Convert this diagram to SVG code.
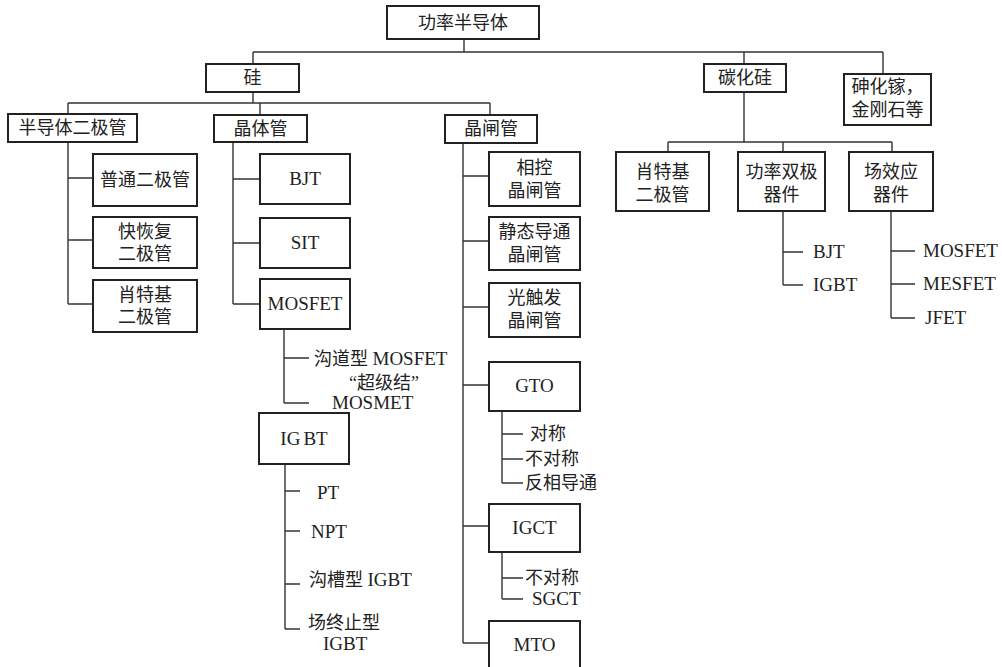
<svg xmlns="http://www.w3.org/2000/svg" width="1002" height="667" viewBox="0 0 1002 667">
<style>
rect{fill:#fff;stroke:#222;stroke-width:2}
.c line,.c path{stroke:#333;stroke-width:1.4;fill:none}
text{font-family:"Liberation Serif","Noto Sans CJK SC",serif;font-size:18px;fill:#222}
.m{text-anchor:middle}
.l{font-size:19px}
</style>
<rect width="1002" height="667" style="fill:#fff;stroke:none"/>
<g class="c" id="connectors">
<path d="M464 39V52M253 52H883M253 52V64M744 52V64M883 52V74"/>
<path d="M253 92V103M68 103H490M68 103V114M260 103V115M490 103V115"/>
<path d="M744 92V142M668 142H892M668 142V152M783 142V152M892 142V152"/>
<path d="M68 142V304M68 178H93M68 240H93M68 304H93"/>
<path d="M233 142V304M233 179H260M233 243H260M233 304H260"/>
<path d="M284 329V403M284 358H309M284 403H309"/>
<path d="M285 464V629M285 491H300M285 531H300M285 584H300M285 629H300"/>
<path d="M463 143V643M463 176H489M463 241H489M463 307H489M463 385H489M463 526H489M463 643H489"/>
<path d="M502 411V483M502 434H523M502 459H523M502 483H523"/>
<path d="M502 552V599M502 578H523M502 599H523"/>
<path d="M783 211V285M783 252H803M783 285H803"/>
<path d="M891 211V318M891 251H915M891 284H915M891 318H915"/>
</g>
<g id="root"><rect x="387" y="6" width="152" height="33"/><text class="m" x="463" y="29">功率半导体</text></g>
<g id="si"><rect x="206" y="64" width="93" height="28"/><text class="m" x="252.5" y="84">硅</text></g>
<g id="sic"><rect x="704" y="64" width="82" height="28"/><text class="m" x="745" y="84">碳化硅</text></g>
<g id="gaas"><rect x="844" y="74" width="87" height="51"/><text class="m" x="887.5" y="93">砷化镓，</text><text class="m" x="887.5" y="116">金刚石等</text></g>
<g id="diode"><rect x="8" y="114" width="129" height="28"/><text class="m" x="72.5" y="134">半导体二极管</text></g>
<g id="transistor"><rect x="214" y="115" width="93" height="27"/><text class="m" x="260.5" y="135">晶体管</text></g>
<g id="thyristor"><rect x="445" y="115" width="92" height="28"/><text class="m" x="491" y="135">晶闸管</text></g>
<g id="d1"><rect x="93" y="154" width="104" height="52"/><text class="m" x="145" y="186">普通二极管</text></g>
<g id="d2"><rect x="93" y="217" width="104" height="51"/><text class="m" x="145" y="238">快恢复</text><text class="m" x="145" y="260">二极管</text></g>
<g id="d3"><rect x="93" y="280" width="104" height="52"/><text class="m" x="145" y="301">肖特基</text><text class="m" x="145" y="323">二极管</text></g>
<g id="bjt"><rect x="260" y="154" width="90" height="50"/><text class="m l" x="305" y="185">BJT</text></g>
<g id="sit"><rect x="260" y="218" width="90" height="50"/><text class="m l" x="305" y="249">SIT</text></g>
<g id="mosfet"><rect x="260" y="279" width="90" height="50"/><text class="m l" x="305" y="310">MOSFET</text></g>
<g id="mosfet-sub">
<text x="314" y="365">沟道型 <tspan class="l">MOSFET</tspan></text>
<text class="m" x="384" y="389">“超级结”</text>
<text class="l" x="332" y="409">MOSMET</text>
</g>
<g id="igbt"><rect x="259" y="413" width="90" height="51"/><text class="m l" x="304" y="445">IG<tspan dx="3">BT</tspan></text></g>
<g id="igbt-sub">
<text class="l" x="317" y="499">PT</text>
<text class="l" x="311" y="538">NPT</text>
<text x="309" y="586">沟槽型 <tspan class="l">IGBT</tspan></text>
<text x="308" y="629">场终止型</text>
<text class="l" x="323" y="650">IGBT</text>
</g>
<g id="t1"><rect x="489" y="152" width="91" height="54"/><text class="m" x="534.5" y="174">相控</text><text class="m" x="534.5" y="197">晶闸管</text></g>
<g id="t2"><rect x="489" y="217" width="91" height="53"/><text class="m" x="534.5" y="238">静态导通</text><text class="m" x="534.5" y="261">晶闸管</text></g>
<g id="t3"><rect x="489" y="283" width="91" height="54"/><text class="m" x="534.5" y="304">光触发</text><text class="m" x="534.5" y="327">晶闸管</text></g>
<g id="gto"><rect x="489" y="362" width="91" height="49"/><text class="m l" x="534.5" y="392">GTO</text></g>
<g id="gto-sub">
<text x="530" y="440">对称</text>
<text x="525" y="465">不对称</text>
<text x="525" y="489">反相导通</text>
</g>
<g id="igct"><rect x="489" y="504" width="91" height="48"/><text class="m l" x="534.5" y="534">IGCT</text></g>
<g id="igct-sub">
<text x="525" y="584">不对称</text>
<text class="l" x="532" y="605">SGCT</text>
</g>
<g id="mto"><rect x="489" y="621" width="91" height="52"/><text class="m l" x="534.5" y="651">MTO</text></g>
<g id="sic-sbd"><rect x="616" y="152" width="93" height="59"/><text class="m" x="662.5" y="178">肖特基</text><text class="m" x="662.5" y="201">二极管</text></g>
<g id="sic-bip"><rect x="738" y="152" width="87" height="59"/><text class="m" x="781.5" y="178">功率双极</text><text class="m" x="781.5" y="201">器件</text></g>
<g id="sic-fet"><rect x="849" y="152" width="84" height="59"/><text class="m" x="891" y="178">场效应</text><text class="m" x="891" y="201">器件</text></g>
<g id="sic-bip-sub">
<text class="l" x="813" y="258">BJT</text>
<text class="l" x="813" y="291">IGBT</text>
</g>
<g id="sic-fet-sub">
<text class="l" x="923" y="257">MOSFET</text>
<text class="l" x="923" y="290">MESFET</text>
<text class="l" x="925" y="324">JFET</text>
</g>
</svg>
